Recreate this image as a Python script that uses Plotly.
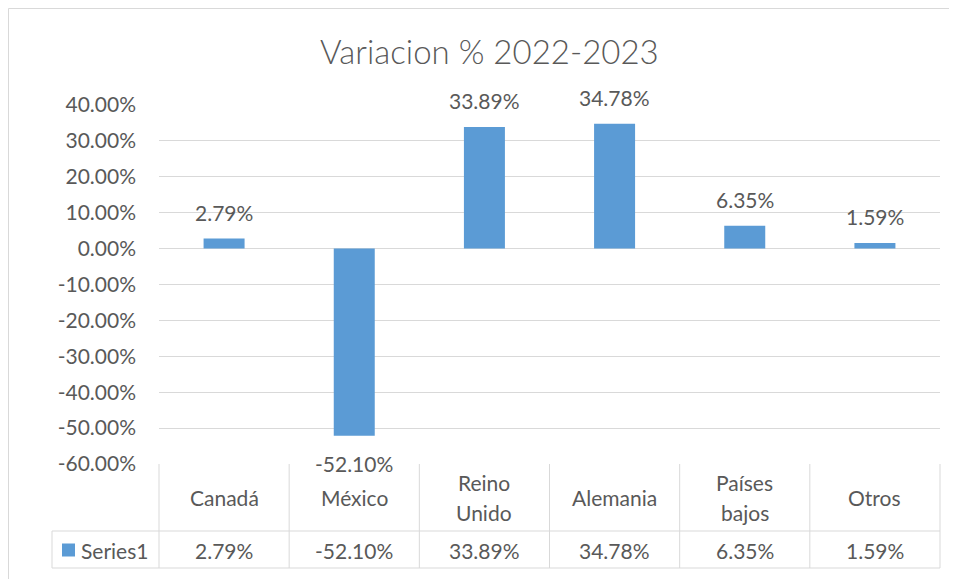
import plotly.graph_objects as go

# ---------------- data ----------------
categories = ["Canadá", "México", "Reino Unido", "Alemania", "Países bajos", "Otros"]
values = [0.0279, -0.5210, 0.3389, 0.3478, 0.0635, 0.0159]
series_name = "Series1"
chart_title = "Variacion % 2022-2023"
tick_vals = [0.4, 0.3, 0.2, 0.1, 0.0, -0.1, -0.2, -0.3, -0.4, -0.5, -0.6]
tick_text = ["40.00%", "30.00%", "20.00%", "10.00%", "0.00%", "-10.00%",
             "-20.00%", "-30.00%", "-40.00%", "-50.00%", "-60.00%"]

# ---------------- styling / layout ----------------
OFF = 8  # page body margin in the browser
W, H = 957 - OFF, 579 - OFF
# screen-pixel geometry of the reference
S_L, S_R, S_T, S_B = 159, 940, 105, 464
ML, MR, MT, MB = S_L - OFF, 957 - S_R, S_T - OFF, 579 - S_B
PW = W - ML - MR
PH = H - MT - MB
FONT = "Lato"
TXT = "#595959"
GRID = "#D9D9D9"
BAR = "#5B9BD5"
FS = 21


def px_x(p):  # screen pixel x -> paper x
    return (p - OFF - ML) / PW


def px_y(p):  # screen pixel y -> paper y
    return 1 - (p - OFF - MT) / PH


def fmt(v):
    return f"{v * 100:.2f}%"


fig = go.Figure()
fig.add_trace(go.Bar(
    x=categories, y=values, name=series_name,
    marker=dict(color=BAR, line=dict(width=0)),
    width=0.315, showlegend=False, hoverinfo="x+y",
))

annotations = []
# data labels above/below bars
for c, v in zip(categories, values):
    annotations.append(dict(
        x=c, y=v, xref="x", yref="y", text=fmt(v), showarrow=False,
        yanchor="middle", yshift=26 if v >= 0 else -28,
        font=dict(family=FONT, size=FS, color=TXT),
    ))

# title
annotations.append(dict(
    x=px_x(489), y=px_y(51), xref="paper", yref="paper", text=chart_title,
    showarrow=False, xanchor="center", yanchor="middle",
    font=dict(family=FONT, size=33, color=TXT, weight=300),
))

# data table: header row (category names)
hdr_mid = 497.5
for c in categories:
    lines = c.split(" ")
    if len(lines) == 1:
        ys = [hdr_mid]
    else:
        ys = [hdr_mid - 15, hdr_mid + 15]
    for ln, yy in zip(lines, ys):
        annotations.append(dict(
            x=c, y=px_y(yy), xref="x", yref="paper", text=ln, showarrow=False,
            yanchor="middle", font=dict(family=FONT, size=FS, color=TXT),
        ))

# data table: value row
row_mid = 550
for c, v in zip(categories, values):
    annotations.append(dict(
        x=c, y=px_y(row_mid), xref="x", yref="paper", text=fmt(v),
        showarrow=False, yanchor="middle",
        font=dict(family=FONT, size=FS, color=TXT),
    ))
annotations.append(dict(
    x=px_x(79), y=px_y(row_mid), xref="paper", yref="paper", text=series_name,
    showarrow=False, xanchor="left", yanchor="middle",
    font=dict(family=FONT, size=FS, color=TXT),
))

shapes = []
line_style = dict(color=GRID, width=1)
t_top, t_mid, t_bot, t_left = 464, 531, 568, 52
# horizontal table lines
for yy, x0 in [(t_mid, t_left), (t_bot, t_left)]:
    shapes.append(dict(type="line", xref="paper", yref="paper",
                       x0=px_x(x0), x1=1, y0=px_y(yy), y1=px_y(yy), line=line_style))
# vertical category boundaries
n = len(categories)
for i in range(n + 1):
    xp = i / n
    shapes.append(dict(type="line", xref="paper", yref="paper",
                       x0=xp, x1=xp, y0=px_y(t_top), y1=px_y(t_bot), line=line_style))
# left border of legend cell
shapes.append(dict(type="line", xref="paper", yref="paper",
                   x0=px_x(t_left), x1=px_x(t_left), y0=px_y(t_mid), y1=px_y(t_bot),
                   line=line_style))
# legend swatch
shapes.append(dict(type="rect", xref="paper", yref="paper",
                   x0=px_x(62), x1=px_x(75), y0=px_y(row_mid - 6.5), y1=px_y(row_mid + 6.5),
                   fillcolor=BAR, line=dict(width=0)))
# chart outer border (left and top visible)
shapes.append(dict(type="line", xref="paper", yref="paper",
                   x0=px_x(8.5), x1=px_x(8.5), y0=px_y(8.5), y1=px_y(600), line=line_style))
shapes.append(dict(type="line", xref="paper", yref="paper",
                   x0=px_x(8.5), x1=px_x(980), y0=px_y(8.5), y1=px_y(8.5), line=line_style))

fig.update_layout(
    width=W, height=H,
    margin=dict(l=ML, r=MR, t=MT, b=MB, pad=0),
    paper_bgcolor="white", plot_bgcolor="white",
    font=dict(family=FONT, size=FS, color=TXT),
    bargap=0.685,
    xaxis=dict(showticklabels=False, showgrid=False, zeroline=False, showline=False,
               ticks="", range=[-0.5, n - 0.5]),
    yaxis=dict(range=[-0.6, 0.4], tickvals=tick_vals, ticktext=tick_text,
               showgrid=True, gridcolor=GRID, gridwidth=1, zeroline=False,
               showline=False, ticks="", ticklabelstandoff=22,
               tickfont=dict(family=FONT, size=FS, color=TXT)),
    annotations=annotations,
    shapes=shapes,
    showlegend=False,
)

fig.write_html("out.html")
